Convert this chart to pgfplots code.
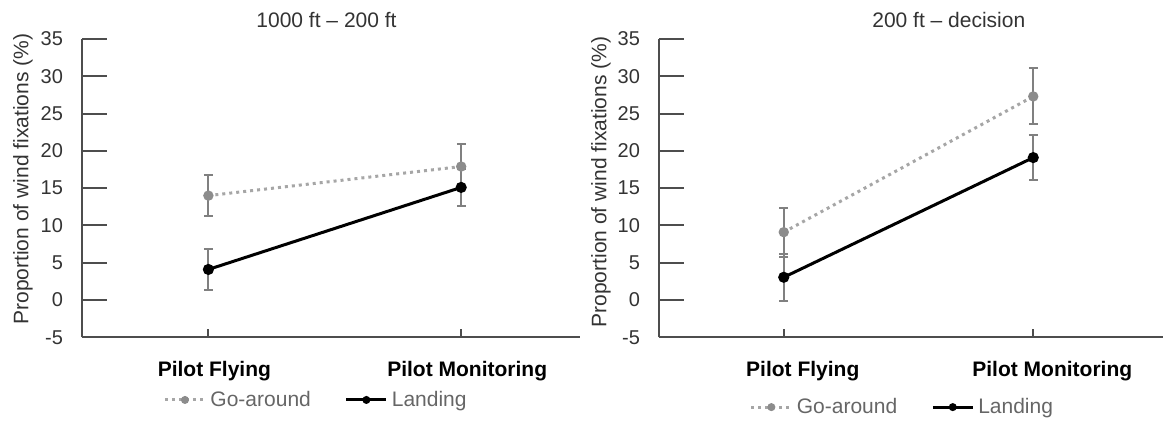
\documentclass[border=0pt]{standalone}
\usepackage{fontspec}
\setmainfont{Liberation Sans}
\usepackage{pgfplots}
\pgfplotsset{compat=1.18}
\definecolor{goline}{HTML}{A6A6A6}
\definecolor{gomark}{HTML}{8C8C8C}
\definecolor{errgray}{HTML}{808080}
\definecolor{axisgray}{HTML}{4D4D4D}
\definecolor{ticktext}{HTML}{333333}
\definecolor{legtext}{HTML}{666666}
\pgfplotsset{
  panel/.style={
    scale only axis,
    height=149.15pt,
    ymin=-5, ymax=35,
    ytick={-5,0,...,35},
    xtick={1,2},
    xticklabels={Pilot Flying, Pilot Monitoring},
    axis x line=bottom, axis y line=left,
    axis line style={-, draw=axisgray, line width=1pt},
    tick style={draw=axisgray, line width=1pt},
    tick align=inside,
    major tick length=12.5pt,
    xtick style={/pgfplots/major tick length=4pt},
    /pgf/number format/assume math mode=true,
    font=\fontsize{10.5pt}{12pt}\selectfont,
    yticklabel style={font=\fontsize{10pt}{12pt}\selectfont, text=ticktext, xshift=-6pt},
    xticklabel style={font=\fontsize{10.5pt}{12pt}\selectfont\bfseries, text=black, anchor=center, yshift=-17pt},
    ylabel={Proportion of wind fixations (\%)},
    ylabel style={text=ticktext, anchor=center, rotate=0},
    title style={text=ticktext, anchor=center, yshift=0pt},
    every axis title shift=0pt,
    legend columns=2,
    legend style={draw=none, fill=none, text=legtext, anchor=center,
      font=\fontsize{10.5pt}{12pt}\selectfont,
      /tikz/every even column/.append style={column sep=15pt},
      nodes={inner sep=2pt}},
    legend image code/.code={\draw[##1, mark size=1.2pt, mark repeat=2, mark phase=2] plot coordinates {(0pt,0pt) (10pt,0pt) (20pt,0pt)};},
    clip=false,
  },
  goaround/.style={draw=goline, line width=1.5pt, dash pattern=on 1.5pt off 2pt,
    mark=*, mark size=1.8pt, mark options={solid, fill=gomark, draw=gomark},
    error bars/.cd, y dir=both, y explicit,
    error bar style={draw=errgray, line width=1pt, solid},
    error mark options={rotate=90, mark size=2.2pt, draw=errgray, line width=1pt, solid}},
  landing/.style={draw=black, line width=1.5pt,
    mark=*, mark size=2pt, mark options={solid, fill=black, draw=black},
    error bars/.cd, y dir=both, y explicit,
    error bar style={draw=errgray, line width=1pt, solid},
    error mark options={rotate=90, mark size=2.2pt, draw=errgray, line width=1pt, solid}},
}
\begin{document}
\begin{tikzpicture}
\useasboundingbox (0pt,0pt) rectangle (581.5pt,210pt);
% Left panel
\begin{axis}[panel,
  at={(41pt,41.35pt)}, anchor=south west,
  width=249pt,
  xmin=0.5, xmax=2.47,
  title={1000 ft -- 200 ft},
  title style={at={(axis description cs:0.491,1.064)}},
  ylabel style={at={(axis description cs:-0.1185,0.53)}},
  xticklabel style={xshift=3pt},
  legend style={at={(axis description cs:0.472,-0.21)}},
]
\addplot[goaround] coordinates {(1,14.0) +- (0,2.8) (2,17.9) +- (0,3.0)};
\addlegendentry{Go-around}
\addplot[landing] coordinates {(1,4.1) +- (0,2.78) (2,15.1) +- (0,2.5)};
\addlegendentry{Landing}
\end{axis}
% Right panel
\begin{axis}[panel,
  at={(329.5pt,41.35pt)}, anchor=south west,
  width=252pt,
  xmin=0.5, xmax=2.52,
  title={200 ft -- decision},
  title style={at={(axis description cs:0.575,1.064)}},
  ylabel style={at={(axis description cs:-0.115,0.52)}},
  xticklabel style={xshift=9.5pt},
  legend style={at={(axis description cs:0.485,-0.234)}},
]
\addplot[goaround] coordinates {(1,9.1) +- (0,3.3) (2,27.3) +- (0,3.75)};
\addlegendentry{Go-around}
\addplot[landing] coordinates {(1,3.05) +- (0,3.15) (2,19.1) +- (0,3.05)};
\addlegendentry{Landing}
\end{axis}
\end{tikzpicture}
\end{document}
